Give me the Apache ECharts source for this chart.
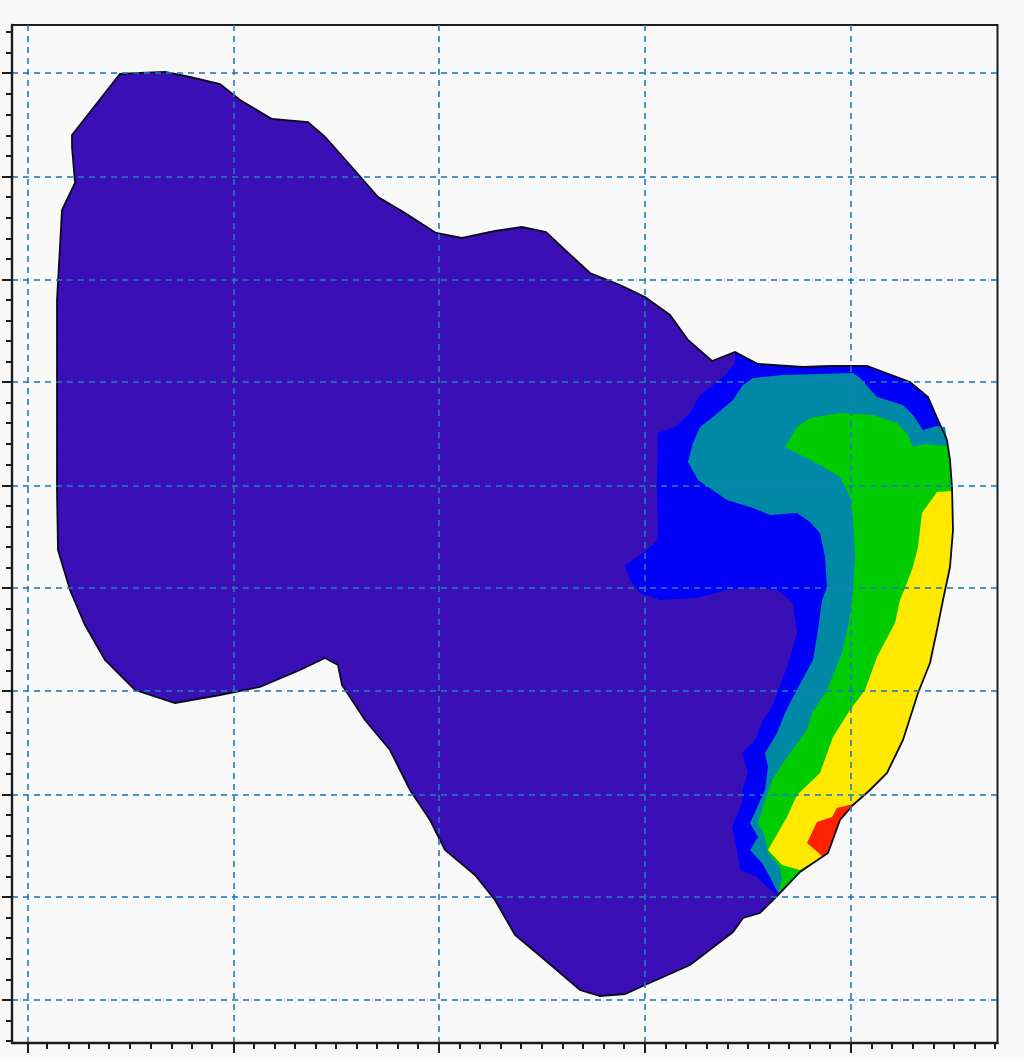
<!DOCTYPE html>
<html>
<head>
<meta charset="utf-8">
<style>html,body{margin:0;padding:0;background:#f9f9f9}#c{width:1024px;height:1059px}</style>
<script src="https://cdn.jsdelivr.net/npm/echarts@6/dist/echarts.min.js"></script>
</head>
<body>
<div id="c"></div>
<script>
// The source has no axis labels, so the units are arbitrary.
var xMajorTicks = [0,206,411,617,823];
var xMinorTicks = [19,41,61,81,102,123,144,164,184,226,247,267,288,308,329,349,370,390,432,452,473,493,514,535,555,576,596,638,658,679,700,720,741,761,782,802,844,864,885,906,926,947,967];
var yMajorTicks = [0,103,205,309,412,514,618,720,823,927];
var yMinorTicks = [-41,-21,20,41,62,82,123,144,164,185,226,246,267,288,329,350,370,391,432,453,473,494,535,556,577,597,638,659,679,700,741,761,782,803,844,864,885,906,947,968];

var outline = [[92,926],[112,927],[137,928],[162,923],[192,916],[212,900],[244,881],[280,878],[297,863],[322,835],[350,803],[377,787],[408,767],[434,762],[467,769],[494,773],[518,768],[537,750],[562,727],[592,715],[617,703],[642,685],[660,660],[684,639],[707,648],[730,636],[775,633],[802,634],[839,634],[882,618],[900,603],[910,580],[919,560],[922,540],[924,513],[925,470],[922,433],[915,400],[909,370],[902,337],[890,307],[875,260],[859,227],[842,210],[825,195],[812,180],[800,147],[772,128],[750,105],[732,87],[715,82],[705,68],[662,35],[617,15],[597,6],[572,4],[552,10],[517,40],[487,65],[467,100],[447,125],[417,150],[402,180],[382,210],[362,250],[337,280],[314,315],[310,335],[297,342],[272,330],[232,313],[192,305],[147,297],[107,310],[77,340],[57,375],[42,410],[30,450],[29,510],[29,600],[29,700],[34,790],[47,817],[44,853],[44,865]];
var blueBand = [[707,648],[707,637],[699,627],[689,618],[672,605],[662,587],[647,573],[630,567],[629,517],[630,460],[615,447],[597,435],[602,420],[612,407],[632,400],[669,402],[699,410],[725,413],[749,410],[765,397],[769,367],[759,333],[744,293],[735,280],[727,260],[714,247],[720,227],[715,213],[714,197],[704,173],[709,150],[712,130],[729,123],[739,113],[750,105],[772,128],[800,147],[812,180],[825,195],[842,210],[859,227],[875,260],[890,307],[902,337],[909,370],[915,400],[922,433],[925,470],[924,513],[922,540],[919,560],[910,580],[900,603],[882,618],[839,634],[802,634],[775,633],[730,636]];
var tealBand = [[917,573],[909,574],[895,570],[885,585],[875,595],[849,603],[832,622],[825,627],[755,625],[725,622],[715,615],[705,600],[685,583],[672,573],[665,557],[660,538],[670,520],[699,500],[725,492],[742,485],[769,487],[782,478],[792,467],[797,443],[799,413],[794,400],[790,370],[785,340],[765,303],[757,287],[749,267],[737,247],[740,233],[737,210],[722,177],[730,163],[722,150],[734,137],[742,123],[750,107],[772,128],[800,147],[812,180],[825,195],[842,210],[859,227],[875,260],[890,307],[902,337],[909,370],[915,400],[922,433],[925,470],[924,513],[922,540],[919,560]];
var greenBand = [[917,554],[897,556],[885,553],[880,565],[869,577],[845,585],[812,587],[782,582],[769,573],[757,553],[792,535],[812,523],[822,503],[825,483],[827,443],[825,413],[824,400],[820,373],[814,347],[799,310],[784,287],[779,270],[759,243],[744,220],[730,177],[737,163],[740,147],[752,133],[754,120],[750,107],[772,128],[800,147],[812,180],[825,195],[842,210],[859,227],[875,260],[890,307],[902,337],[909,370],[915,400],[922,433],[925,470],[924,513],[922,540],[919,554]];
var yellowBand = [[924,509],[909,508],[894,487],[890,453],[885,433],[877,412],[872,400],[867,377],[849,343],[837,310],[822,290],[805,263],[792,227],[769,205],[759,183],[740,150],[754,135],[772,130],[800,147],[812,180],[825,195],[842,210],[859,227],[875,260],[890,307],[902,337],[909,370],[915,400],[922,433],[925,470]];
var redBand = [[825,196],[809,192],[804,183],[789,178],[779,157],[794,144],[800,147],[812,180]];

var bandColors = ['#3a10b6','#0000f8','#0089a6','#00cc00','#ffe900','#ff2200'];
var bands = [outline, blueBand, tealBand, greenBand, yellowBand, redBand];

function polySeries(points, fill, stroke, z) {
  return {
    type: 'custom', silent: true, z: z, clip: true, xAxisIndex: 0, yAxisIndex: 0,
    data: [0],
    renderItem: function (params, api) {
      return {
        type: 'polygon',
        shape: { points: points.map(function (p) { return api.coord(p); }) },
        style: { fill: fill, stroke: stroke, lineWidth: stroke ? 1.8 : 0 }
      };
    }
  };
}

var series = bands.map(function (b, i) { return polySeries(b, bandColors[i], null, 2 + i * 0.01); });
series.push(polySeries(outline, 'transparent', '#0a0a1e', 3));

var xRange = { min: -16, max: 969.5 }, yRange = { min: -43, max: 975 };
var axisCol = '#1c1c1c', gridStyle = { color: 'rgba(30,122,190,0.8)', width: 2, type: [6, 5] };

var option = {
  animation: false,
  backgroundColor: '#f9f9f9',
  grid: { left: 12, top: 25, width: 985.5, height: 1018, show: true, backgroundColor: '#f9f9f9', borderColor: axisCol, borderWidth: 2 },
  xAxis: [
    { type: 'value', min: xRange.min, max: xRange.max, position: 'bottom', z: 5,
      axisLine: { show: true, onZero: false, lineStyle: { color: axisCol, width: 2.4 } },
      axisTick: { show: true, customValues: xMajorTicks, length: 10, lineStyle: { color: axisCol, width: 2 } },
      axisLabel: { show: false },
      splitLine: { show: true, customValues: xMajorTicks, lineStyle: gridStyle } },
    { type: 'value', min: xRange.min, max: xRange.max, position: 'bottom', z: 5,
      axisLine: { show: false, onZero: false },
      axisTick: { show: true, customValues: xMinorTicks, length: 6, lineStyle: { color: axisCol, width: 2 } },
      axisLabel: { show: false }, splitLine: { show: false } }
  ],
  yAxis: [
    { type: 'value', min: yRange.min, max: yRange.max, position: 'left', z: 5,
      axisLine: { show: true, onZero: false, lineStyle: { color: axisCol, width: 2.4 } },
      axisTick: { show: true, customValues: yMajorTicks, length: 10, lineStyle: { color: axisCol, width: 2 } },
      axisLabel: { show: false },
      splitLine: { show: true, customValues: yMajorTicks, lineStyle: gridStyle } },
    { type: 'value', min: yRange.min, max: yRange.max, position: 'left', z: 5,
      axisLine: { show: false, onZero: false },
      axisTick: { show: true, customValues: yMinorTicks, length: 6, lineStyle: { color: axisCol, width: 2 } },
      axisLabel: { show: false }, splitLine: { show: false } }
  ],
  series: series
};
echarts.init(document.getElementById('c'), null, { renderer: 'canvas' }).setOption(option);
</script>
</body>
</html>
